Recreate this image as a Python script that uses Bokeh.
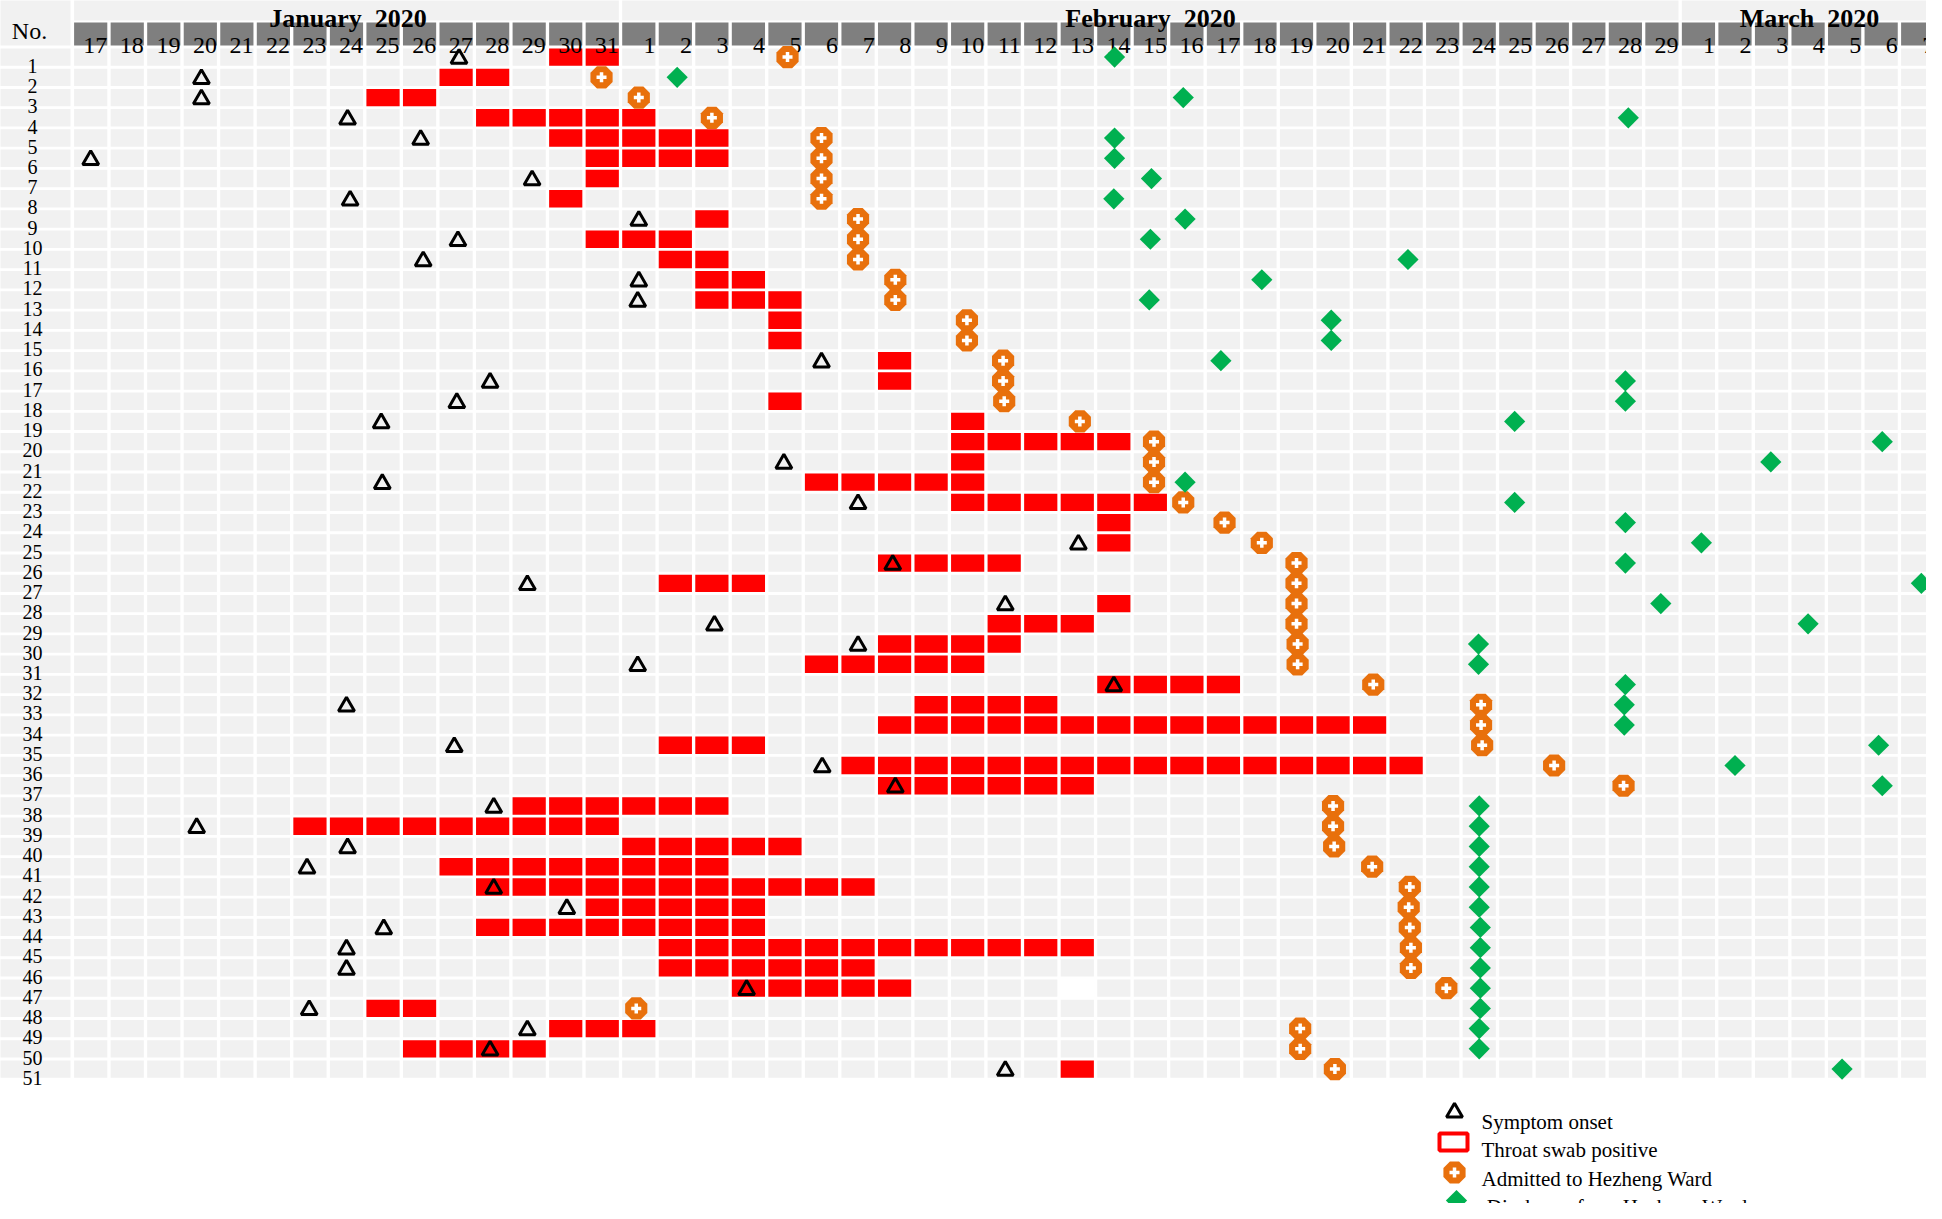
from bokeh.plotting import figure
from bokeh.models import Range1d
from bokeh.core.properties import value
from bokeh.embed import file_html
from bokeh.resources import INLINE

# ---- data (day columns counted from 17 January = 0; rows are patients 1..51)
day_labels = [str(d) for d in range(17, 32)] + [str(d) for d in range(1, 30)] + [str(d) for d in range(1, 8)]
months = ["January\u00a0\u00a02020", "February\u00a0\u00a02020", "March\u00a0\u00a02020"]
patients = list(range(1, 52))

onset = {1: 10.08, 2: 3.03, 3: 3.03, 4: 7.03, 5: 9.03, 6: 0, 7: 12.08, 8: 7.1, 9: 15, 10: 10.05, 11: 9.1,
         12: 15, 13: 14.97, 16: 20, 17: 10.93, 18: 10.02, 19: 7.95, 21: 18.97, 22: 7.98, 23: 21, 25: 27.03,
         26: 21.95, 27: 11.95, 28: 25.03, 29: 17.07, 30: 21, 31: 14.97, 32: 28, 33: 7, 35: 9.95, 36: 20.02,
         37: 22.02, 38: 11.03, 39: 2.9, 40: 7.03, 41: 5.92, 42: 11.03, 43: 13.03, 44: 8.02, 45: 7, 46: 7,
         47: 17.95, 48: 5.98, 49: 11.95, 50: 10.93, 51: 25.03}

swab_first_last = {1: (13, 14), 2: (10, 11), 3: (8, 9), 4: (11, 15), 5: (13, 17), 6: (14, 17), 7: (14, 14),
                   8: (13, 13), 9: (17, 17), 10: (14, 16), 11: (16, 17), 12: (17, 18), 13: (17, 19),
                   14: (19, 19), 15: (19, 19), 16: (22, 22), 17: (22, 22), 18: (19, 19), 19: (24, 24),
                   20: (24, 28), 21: (24, 24), 22: (20, 24), 23: (24, 29), 24: (28, 28), 25: (28, 28),
                   26: (22, 25), 27: (16, 18), 28: (28, 28), 29: (25, 27), 30: (22, 25), 31: (20, 24),
                   32: (28, 31), 33: (23, 26), 34: (22, 35), 35: (16, 18), 36: (21, 36), 37: (22, 27),
                   38: (12, 17), 39: (6, 14), 40: (15, 19), 41: (10, 17), 42: (11, 21), 43: (14, 18),
                   44: (11, 18), 45: (16, 27), 46: (16, 21), 47: (18, 22), 48: (8, 9), 49: (13, 15),
                   50: (9, 12), 51: (27, 27)}

admitted = [19.07, 13.98, 15, 17, 20, 20, 20, 20, 21, 21, 21, 22.02, 22.02, 23.98, 23.98, 24.97, 24.97, 25,
            27.07, 29.1, 29.1, 29.1, 29.9, 31.03, 32.05, 33, 33, 33, 33, 33.03, 33.03, 35.1, 38.05, 38.05,
            38.08, 40.05, 41.95, 34, 34, 34.03, 35.07, 36.1, 36.07, 36.1, 36.13, 36.13, 37.1, 14.93, 33.1,
            33.1, 34.05]

discharge = [28.02, 16.05, 29.9, 42.08, 28.02, 28.02, 29.03, 28, 29.95, 29, 36.05, 32.05, 28.97, 33.95,
             33.95, 30.93, 42, 42, 38.97, 49.03, 45.98, 29.95, 38.97, 42, 44.08, 42, 50.1, 42.97, 47,
             37.98, 37.98, 42, 41.97, 41.97, 48.93, 45, 49.03, 38, 38, 38, 38, 38, 38, 38.03, 38.03, 38.03,
             38.03, 38.03, 38, 38, 47.93]

missing_cell = (47, 27)  # the one blank cell of the grid
legend_names = ["Symptom onset", "Throat swab positive", "Admitted to Hezheng Ward", "\u00a0Discharge from Hezheng Ward"]

# ---- pixel layout (reference px) turned into data ranges
W, H = 1926, 1203
PX, PY = 36.54, 20.24      # px per column / row
X0, Y0 = 98.2, 64.6        # reference px of column 0 and row 1
dx = lambda px: (px - X0) / PX
dy = lambda py: (py - Y0) / PY + 1

p = figure(width=W, height=H, output_backend="svg", toolbar_location=None, min_border=0,
           x_range=Range1d(dx(8), dx(8 + W)), y_range=Range1d(dy(8 + H), dy(8)),
           x_axis_location=None, y_axis_location=None, outline_line_color=None,
           background_fill_color="white", border_fill_color="white")
p.grid.visible = False

GREY, HEAD, RED, ORANGE, GREEN = "#f1f1f1", "#7f7f7f", "#ff0000", "#e8700c", "#00b050"
CW, CH = 33.2 / PX, 17.4 / PY
n_days, n_rows = len(day_labels), len(patients)

# left column, month strips, date cells
p.quad(left=[dx(0)] * n_rows, right=[dx(78)] * n_rows,
       bottom=[r + CH / 2 for r in patients], top=[r - CH / 2 for r in patients], color=GREY, line_color=None)
p.quad(left=[dx(0)], right=[dx(78)], bottom=[dy(53)], top=[dy(0)], color=GREY, line_color=None)

jan, feb = 15, 29
strip_l = [-CW / 2, jan - CW / 2, jan + feb - CW / 2]
strip_r = [jan - 1 + CW / 2, jan + feb - 1 + CW / 2, n_days - 1 + CW / 2]
p.quad(left=strip_l, right=strip_r, bottom=[dy(28)] * 3, top=[dy(0)] * 3, color=GREY, line_color=None)
cols = list(range(n_days))
p.quad(left=[c - CW / 2 for c in cols], right=[c + CW / 2 for c in cols],
       bottom=[dy(53)] * n_days, top=[dy(30)] * n_days, color=HEAD, line_color=None)

# grid
gx, gy = [], []
for r in patients:
    for c in cols:
        if (r, c) != missing_cell:
            gx.append(c); gy.append(r)
p.rect(gx, gy, width=CW, height=CH, color=GREY, line_color=None)

# swab cells
sx, sy = [], []
for r, (a, b) in swab_first_last.items():
    for c in range(a, b + 1):
        sx.append(c); sy.append(r)
p.rect(sx, sy, width=CW, height=CH, color=RED, line_color=None)

# texts
SERIF = value("Liberation Serif")
p.text(x=[c + CW / 2 for c in cols], y=[dy(52.8)] * n_days, text=day_labels, text_font=SERIF,
       text_font_size="24px", text_align="right", text_baseline="alphabetic", text_color="black")
p.text(x=[dx(40)] * n_rows, y=[r + CH / 2 for r in patients], text=[str(r) for r in patients], text_font=SERIF,
       text_font_size="20px", text_align="center", text_baseline="alphabetic", text_color="black")
p.text(x=[dx(37)], y=[dy(38)], text=["No."], text_font=SERIF, text_font_size="24px",
       text_align="center", text_baseline="alphabetic", text_color="black")
p.text(x=[dx(355.5), dx(1158), dx(1817)], y=[dy(25.5)] * 3, text=months, text_font=SERIF, text_font_size="26px",
       text_font_style="bold", text_align="center", text_baseline="alphabetic", text_color="black")


def admit_marker(xs, ys):
    p.ngon(xs, ys, radius=dict(value=12, units="screen"), n=8, angle=0.3927, color=ORANGE, line_color=None)
    p.scatter(xs, ys, marker="cross", size=10, line_color="white", line_width=3.5)


def discharge_marker(xs, ys):
    p.scatter(xs, ys, marker="square", size=15, angle=0.7854, color=GREEN, line_color=None)


def onset_marker(xs, ys):
    p.scatter(xs, ys, marker="triangle", size=16, fill_color=None, line_color="black", line_width=3)


oy = [r + 0.08 for r in onset]
onset_marker(list(onset.values()), oy)
admit_marker(admitted, patients)
discharge_marker(discharge, patients)

# legend
onset_marker([dx(1462)], [dy(1120)])
p.quad(left=[dx(1447)], right=[dx(1475)], bottom=[dy(1158)], top=[dy(1141)], fill_color="white",
       line_color=RED, line_width=4)
admit_marker([dx(1462)], [dy(1180)])
discharge_marker([dx(1464)], [dy(1208)])
p.text(x=[dx(1489)] * 4, y=[dy(1129), dy(1157), dy(1186), dy(1214)], text=legend_names, text_font=SERIF,
       text_font_size="21px", text_align="left", text_baseline="alphabetic", text_color="black")

open("out.html", "w").write(file_html(p, INLINE))
